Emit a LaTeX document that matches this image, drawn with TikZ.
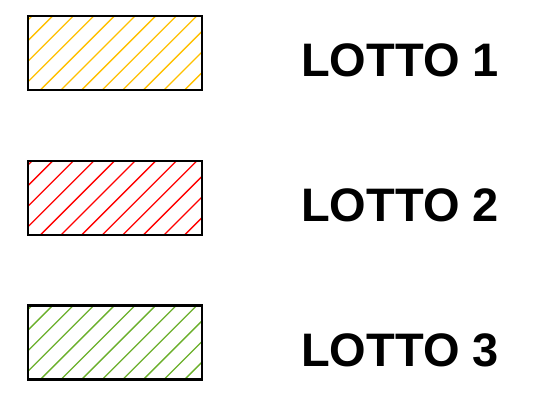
\documentclass[tikz,border=0pt]{standalone}
\usepackage{fontspec}
\setmainfont{Liberation Sans}
\definecolor{lotyellow}{HTML}{FFC000}
\definecolor{lotred}{HTML}{FF0000}
\definecolor{lotgreen}{HTML}{6AAF2A}
\tikzset{
  x=1pt,y=1pt,
  lotbox/.style={draw=black, line width=2.2pt, minimum width=174pt, minimum height=74pt, inner sep=0pt,
    path picture={\foreach \k in {0,...,16}{\draw[line width=1.3pt, draw=#1] ([xshift=4pt+(\k-4)*20.6pt]path picture bounding box.north west) -- ++(-120pt,-120pt);}}},
  lottext/.style={font=\fontsize{47}{47}\selectfont\bfseries, inner sep=0pt}
}
\begin{document}
\begin{tikzpicture}
\useasboundingbox (0,0) rectangle (549,-415);
\node[lotbox=lotyellow] (b1) at (115,-53) {};
\node[lotbox=lotred] (b2) at (115,-198) {};
\node[lotbox=lotgreen] (b3) at (115,-342.5) {};
\node[lottext] (t1) at (400,-60) {LOTTO 1};
\node[lottext] (t2) at (400,-205) {LOTTO 2};
\node[lottext] (t3) at (400,-350) {LOTTO 3};
\end{tikzpicture}
\end{document}
